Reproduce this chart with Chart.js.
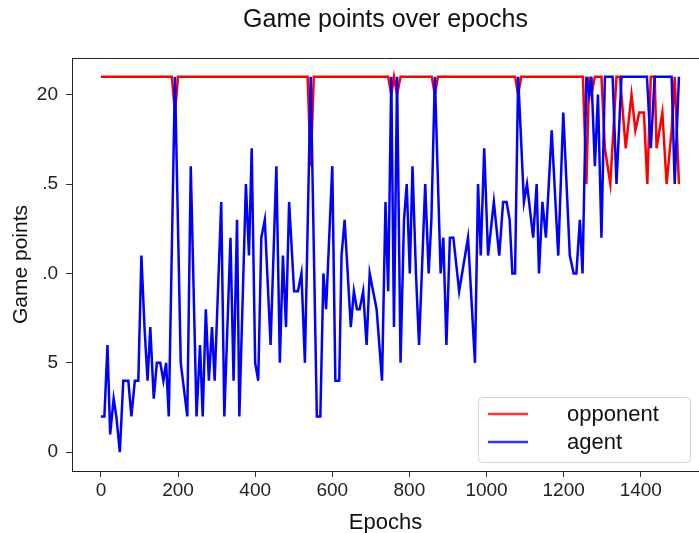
<!DOCTYPE html>
<html>
<head>
<meta charset="utf-8">
<script src="https://cdn.jsdelivr.net/npm/chart.js@4.4.0/dist/chart.umd.min.js"></script>
<style>
  html, body { margin: 0; padding: 0; background: #fff; overflow: hidden; }
  #chart { display: block; }
</style>
</head>
<body>
<canvas id="chart" width="699" height="533"></canvas>
<script>
// values (epoch, game points)
const agentEpochs = [0, 9, 17, 24, 33, 40, 49, 58, 71, 79, 88, 97, 105, 113, 121, 128, 137, 145, 154, 162, 169, 176, 192, 207, 224, 233, 248, 257, 264, 272, 280, 288, 295, 312, 320, 336, 344, 353, 359, 376, 384, 391, 400, 408, 416, 425, 440, 455, 464, 472, 480, 488, 501, 511, 520, 529, 544, 560, 569, 577, 584, 600, 608, 618, 624, 632, 648, 656, 664, 671, 680, 689, 697, 715, 729, 738, 745, 753, 760, 768, 777, 786, 793, 801, 808, 817, 825, 841, 850, 857, 866, 881, 888, 896, 905, 914, 929, 952, 970, 978, 985, 994, 1004, 1019, 1033, 1043, 1052, 1060, 1067, 1074, 1082, 1097, 1105, 1121, 1130, 1136, 1145, 1154, 1169, 1186, 1199, 1216, 1226, 1233, 1242, 1249, 1259, 1266, 1272, 1281, 1289, 1298, 1307, 1327, 1337, 1350, 1416, 1426, 1436, 1480, 1488, 1499];
const agentPoints = [2, 2, 6, 1, 3, 2, 0, 4, 4, 2, 4, 4, 11, 7, 4, 7, 3, 5, 5, 4, 5, 2, 21, 5, 2, 16, 2, 6, 2, 8, 4, 7, 4, 14, 2, 12, 4, 13, 2, 15, 11, 17, 5, 4, 12, 13, 6, 16, 5, 11, 7, 14, 9, 9, 10, 5, 21, 2, 2, 10, 8, 16, 4, 4, 11, 13, 7, 9, 8, 8, 9, 6, 10, 8, 4, 14, 9, 21, 7, 21, 5, 13, 15, 10, 16, 10, 6, 15, 10, 13, 21, 10, 12, 6, 12, 12, 9, 12, 5, 15, 11, 17, 11, 14, 11, 14, 14, 13, 10, 10, 21, 14, 15, 12, 15, 10, 14, 12, 18, 11, 19, 11, 10, 10, 13, 10, 21, 20, 21, 16, 20, 12, 21, 21, 15, 21, 21, 17, 21, 21, 15, 21];

const opponentEpochs = [0, 184, 192, 200, 536, 544, 552, 745, 753, 760, 768, 777, 858, 866, 874, 1074, 1082, 1090, 1250, 1259, 1266, 1272, 1281, 1298, 1307, 1321, 1337, 1346, 1361, 1376, 1386, 1396, 1408, 1417, 1426, 1436, 1441, 1456, 1467, 1480, 1488, 1499];
const opponentPoints = [21, 21, 19, 21, 21, 16, 21, 21, 20, 21, 20, 21, 21, 20, 21, 21, 20, 21, 21, 15, 21, 20, 21, 21, 17, 15, 21, 21, 17, 20, 18, 19, 19, 15, 21, 21, 17, 19, 15, 18, 21, 15];

const xTicks = [0, 200, 400, 600, 800, 1000, 1200, 1400];
const yTicks = [0, 5, 10, 15, 20];
const yTickLabels = ['0', '5', '.0', '.5', '20'];

const seriesNames = ['opponent', 'agent'];
const seriesColors = ['#ff0000', '#0000ff'];

const FONT = "'Liberation Sans', Arial, sans-serif";

function toXY(xs, ys) {
    return xs.map((x, i) => ({ x: x, y: ys[i] }));
}

// top spine and the legend box, drawn after the chart
const frameAndLegend = {
    id: 'frameAndLegend',
    afterDraw(chart) {
        const ctx = chart.ctx;
        const a = chart.chartArea;
        ctx.save();
        ctx.strokeStyle = '#222';
        ctx.lineWidth = 1;
        ctx.beginPath();
        ctx.moveTo(a.left, Math.round(a.top) + 0.5);
        ctx.lineTo(a.right, Math.round(a.top) + 0.5);
        ctx.stroke();

        // legend
        const bx = 478.5, by = 397.5, bw = 212, bh = 65, r = 4;
        ctx.fillStyle = 'rgba(255,255,255,0.85)';
        ctx.strokeStyle = '#d4d4d4';
        ctx.beginPath();
        ctx.moveTo(bx + r, by);
        ctx.lineTo(bx + bw - r, by);
        ctx.arcTo(bx + bw, by, bx + bw, by + r, r);
        ctx.lineTo(bx + bw, by + bh - r);
        ctx.arcTo(bx + bw, by + bh, bx + bw - r, by + bh, r);
        ctx.lineTo(bx + r, by + bh);
        ctx.arcTo(bx, by + bh, bx, by + bh - r, r);
        ctx.lineTo(bx, by + r);
        ctx.arcTo(bx, by, bx + r, by, r);
        ctx.closePath();
        ctx.fill();
        ctx.stroke();

        ctx.font = '22px ' + FONT;
        ctx.textBaseline = 'middle';
        ctx.textAlign = 'left';
        seriesNames.forEach((name, i) => {
            const y = 414 + i * 28;
            ctx.strokeStyle = seriesColors[i];
            ctx.globalAlpha = 0.8;
            ctx.lineWidth = 2.5;
            ctx.beginPath();
            ctx.moveTo(488, y);
            ctx.lineTo(528, y);
            ctx.stroke();
            ctx.globalAlpha = 1;
            ctx.fillStyle = '#111';
            ctx.fillText(name, 567, y + 1);
        });
        ctx.restore();
    }
};

const ctx = document.getElementById('chart').getContext('2d');

new Chart(ctx, {
    type: 'line',
    data: {
        datasets: [
            {
                label: seriesNames[1],
                data: toXY(agentEpochs, agentPoints),
                borderColor: seriesColors[1],
                borderWidth: 2.5,
                pointRadius: 0,
                tension: 0,
                order: 0
            },
            {
                label: seriesNames[0],
                data: toXY(opponentEpochs, opponentPoints),
                borderColor: seriesColors[0],
                borderWidth: 2.5,
                pointRadius: 0,
                tension: 0,
                order: 1
            }
        ]
    },
    options: {
        responsive: false,
        animation: false,
        layout: { padding: 0 },
        plugins: {
            legend: { display: false },
            tooltip: { enabled: false },
            title: {
                display: true,
                text: 'Game points over epochs',
                fullSize: false,
                color: '#111',
                font: { family: FONT, size: 25, weight: 'normal' },
                padding: { top: 5, bottom: 23 }
            }
        },
        scales: {
            x: {
                type: 'linear',
                min: -75,
                max: 1551,
                afterFit: (scale) => { scale.height = 62; },
                afterBuildTicks: (scale) => { scale.ticks = xTicks.map(v => ({ value: v })); },
                ticks: {
                    color: '#222',
                    font: { family: FONT, size: 19 },
                    padding: 2,
                    maxRotation: 0,
                    autoSkip: false,
                    callback: (value) => String(value)
                },
                grid: { drawOnChartArea: false, drawTicks: true, tickLength: 6, color: '#333' },
                border: { display: true, color: '#222', width: 1 },
                title: {
                    display: true,
                    text: 'Epochs',
                    color: '#111',
                    font: { family: FONT, size: 22 },
                    padding: { top: 0, bottom: -3 }
                }
            },
            y: {
                type: 'linear',
                min: -1.05,
                max: 22.05,
                afterFit: (scale) => { scale.width = 72; },
                afterBuildTicks: (scale) => { scale.ticks = yTicks.map(v => ({ value: v })); },
                ticks: {
                    color: '#222',
                    font: { family: FONT, size: 19 },
                    padding: 8,
                    callback: (value) => {
                        const i = yTicks.indexOf(value);
                        return i >= 0 ? yTickLabels[i] : '';
                    }
                },
                grid: { drawOnChartArea: false, drawTicks: true, tickLength: 6, color: '#333' },
                border: { display: true, color: '#222', width: 1 },
                title: {
                    display: true,
                    text: 'Game points',
                    color: '#111',
                    font: { family: FONT, size: 21 },
                    padding: { top: 9, bottom: 0 }
                }
            }
        }
    },
    plugins: [frameAndLegend]
});
</script>
</body>
</html>
